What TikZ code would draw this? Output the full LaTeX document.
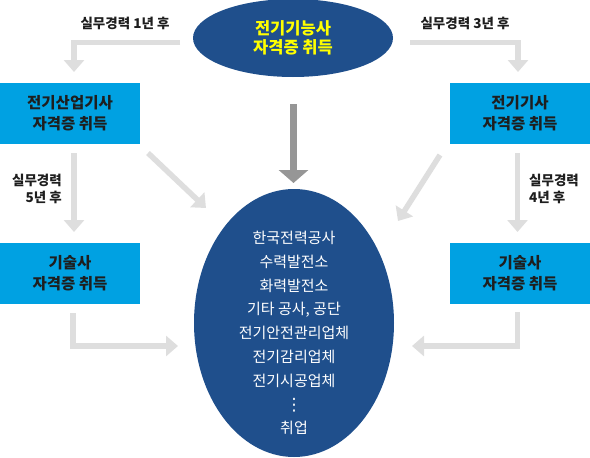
\documentclass[tikz,border=0pt]{standalone}
\usepackage{fontspec}
\setmainfont{Noto Sans CJK KR}
\newfontfamily\symfont{DejaVu Sans}
\usetikzlibrary{arrows.meta,shapes.geometric}
\definecolor{navy}{RGB}{31,79,140}
\definecolor{sky}{RGB}{0,161,226}
\definecolor{lgray}{RGB}{222,222,222}
\definecolor{mgray}{RGB}{150,150,150}
\definecolor{ink}{RGB}{30,30,30}
\definecolor{yel}{RGB}{255,255,0}
\tikzset{
  oval/.style={ellipse,fill=navy,draw=none,inner sep=0pt},
  certbox/.style={rectangle,fill=sky,draw=none,minimum width=140pt,minimum height=61pt,inner sep=0pt,
    text=ink,align=center,font=\fontsize{15.5}{21}\selectfont\bfseries},
  lbl/.style={text=ink,font=\fontsize{13.5}{17}\selectfont\bfseries,inner sep=0pt},
  flow/.style={draw=lgray,line width=5.5pt,line join=miter,-{Triangle[width=20pt,length=12pt]}},
  mainflow/.style={draw=mgray,line width=7pt,-{Triangle[width=29pt,length=13pt]}}
}
\begin{document}
\begin{tikzpicture}[x=1pt,y=-1pt]
\useasboundingbox (0,0) rectangle (590,458);
% nodes
\node[oval,minimum width=200pt,minimum height=78pt,text=yel,align=center,
  font=\fontsize{16.5}{24}\selectfont\bfseries] (top) at (293,38) {\raisebox{-3pt}{\shortstack{전기기능사\\[1pt]자격증 취득}}};
\node[oval,minimum width=200pt,minimum height=268pt] (job) at (294,323) {};
\node[text=white,align=center,font=\fontsize{15}{23.8}\selectfont,inner sep=0pt] (joblist) at (294,333)
  {한국전력공사\\수력발전소\\화력발전소\\기타 공사, 공단\\전기안전관리업체\\전기감리업체\\전기시공업체\\{\symfont\fontsize{17}{23.8}\selectfont ⋮}\\취업};
\node[certbox] (lt) at (70,113.5) {전기산업기사\\자격증 취득};
\node[certbox] (rt) at (520,113.5) {전기기사\\자격증 취득};
\node[certbox] (lb) at (70,273) {기술사\\자격증 취득};
\node[certbox] (rb) at (520,273) {기술사\\자격증 취득};
% labels
\node[lbl] (l1) at (125,23) {실무경력 1년 후};
\node[lbl] (l3) at (465,23) {실무경력 3년 후};
\node[lbl,align=right,anchor=east] (l5) at (62,188.5) {실무경력\\5년 후};
\node[lbl,align=left,anchor=west] (l4) at (529,188.5) {실무경력\\4년 후};
% connector coordinates
\coordinate (a1s) at (180,42.5);
\coordinate (a1c) at (74,42.5);
\coordinate (a1e) at (74,72);
\coordinate (a3s) at (410,42.5);
\coordinate (a3c) at (518,42.5);
\coordinate (a3e) at (518,72);
\coordinate (a5s) at (74,153);
\coordinate (a5e) at (74,232);
\coordinate (a4s) at (517.5,153);
\coordinate (a4e) at (517.5,232);
\coordinate (dls) at (148,153);
\coordinate (dle) at (206,208);
\coordinate (drs) at (440,155);
\coordinate (dre) at (398,221);
\coordinate (bls) at (73,313);
\coordinate (blc) at (73,346);
\coordinate (ble) at (178,346);
\coordinate (brs) at (517.5,312);
\coordinate (brc) at (517.5,346);
\coordinate (bre) at (412,346);
\coordinate (ms) at (293.5,104);
\coordinate (me) at (293.5,183);
% connectors
\draw[flow] (a1s) -- (a1c) -- (a1e);
\draw[flow] (a3s) -- (a3c) -- (a3e);
\draw[flow] (a5s) -- (a5e);
\draw[flow] (a4s) -- (a4e);
\draw[flow] (dls) -- (dle);
\draw[flow] (drs) -- (dre);
\draw[flow] (bls) -- (blc) -- (ble);
\draw[flow] (brs) -- (brc) -- (bre);
\draw[mainflow] (ms) -- (me);
\end{tikzpicture}
\end{document}
